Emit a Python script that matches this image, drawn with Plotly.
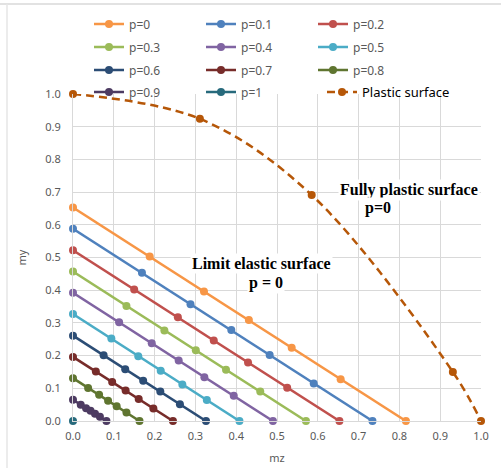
import plotly.graph_objects as go

# ---- data ----
p_labels = ["p=0", "p=0.1", "p=0.2", "p=0.3", "p=0.4", "p=0.5",
            "p=0.6", "p=0.7", "p=0.8", "p=0.9", "p=1"]

mz_p0 = [0, 0.188, 0.321, 0.431, 0.536, 0.656, 0.816]
my_p0 = [0.653, 0.503, 0.396, 0.309, 0.224, 0.128, 0]
mz_p01 = [0, 0.169, 0.288, 0.388, 0.482, 0.590, 0.734]
my_p01 = [0.588, 0.453, 0.357, 0.278, 0.202, 0.115, 0]
mz_p02 = [0, 0.150, 0.257, 0.345, 0.429, 0.525, 0.653]
my_p02 = [0.522, 0.402, 0.317, 0.246, 0.179, 0.102, 0]
mz_p03 = [0, 0.131, 0.224, 0.301, 0.375, 0.459, 0.571]
my_p03 = [0.457, 0.352, 0.277, 0.216, 0.157, 0.090, 0]
mz_p04 = [0, 0.113, 0.193, 0.259, 0.322, 0.394, 0.490]
my_p04 = [0.392, 0.302, 0.238, 0.185, 0.134, 0.077, 0]
mz_p05 = [0, 0.094, 0.160, 0.215, 0.268, 0.328, 0.408]
my_p05 = [0.327, 0.252, 0.198, 0.154, 0.112, 0.064, 0]
mz_p06 = [0, 0.075, 0.128, 0.172, 0.214, 0.262, 0.326]
my_p06 = [0.261, 0.201, 0.158, 0.123, 0.090, 0.051, 0]
mz_p07 = [0, 0.056, 0.096, 0.129, 0.161, 0.197, 0.245]
my_p07 = [0.196, 0.151, 0.119, 0.093, 0.067, 0.038, 0]
mz_p08 = [0, 0.037, 0.064, 0.086, 0.107, 0.131, 0.163]
my_p08 = [0.131, 0.101, 0.080, 0.062, 0.045, 0.026, 0]
mz_p09 = [0, 0.019, 0.032, 0.043, 0.054, 0.066, 0.082]
my_p09 = [0.065, 0.050, 0.039, 0.031, 0.022, 0.013, 0]
mz_p1 = [0]
my_p1 = [0]

mz_plastic = [0, 0.311, 0.585, 0.931, 1.0]
my_plastic = [1.0, 0.924, 0.691, 0.150, 0.0]

mz_series = [mz_p0, mz_p01, mz_p02, mz_p03, mz_p04, mz_p05,
             mz_p06, mz_p07, mz_p08, mz_p09, mz_p1]
my_series = [my_p0, my_p01, my_p02, my_p03, my_p04, my_p05,
             my_p06, my_p07, my_p08, my_p09, my_p1]

colors = ["#F79646", "#4F81BD", "#C0504D", "#9BBB59", "#8064A2", "#4BACC6",
          "#2C4D75", "#772C2A", "#5F7530", "#4D3B62", "#276A7C"]
plastic_color = "#B65708"

# layout geometry (pixels)
W, H = 501, 468
L, R, T, B = 73, 20, 94, 47
pw, ph = W - L - R, H - T - B

def py2paper(py):
    return (H - B - py) / ph

def px2paper(px):
    return (px - L) / pw

legend_names = ["legend", "legend2", "legend3", "legend4"]

fig = go.Figure()
for i, (name, xs, ys, c) in enumerate(zip(p_labels, mz_series, my_series, colors)):
    fig.add_trace(go.Scatter(
        x=xs, y=ys, name=name, mode="lines+markers",
        line=dict(color=c, width=2.5),
        marker=dict(color=c, size=8),
        legend=legend_names[i // 3],
        cliponaxis=False,
    ))

fig.add_trace(go.Scatter(
    x=mz_plastic, y=my_plastic,
    name='<span style="color:#000000;font-size:13px">Plastic surface</span>',
    mode="lines+markers",
    line=dict(color=plastic_color, width=2.5, dash="8px,5px", shape="spline"),
    marker=dict(color=plastic_color, size=8),
    legend="legend5",
    cliponaxis=False,
))

row_py = [24, 47, 70, 92]
leg_font = dict(family="Noto Sans, Open Sans, sans-serif", size=12, color="#595959")
leg_common = dict(orientation="h", entrywidth=67, entrywidthmode="pixels",
                  bgcolor="rgba(0,0,0,0)", borderwidth=0, font=leg_font,
                  xref="container", yref="container",
                  xanchor="left", yanchor="middle", itemwidth=30)
legends = {}
for name, py in zip(legend_names, row_py):
    d = dict(leg_common)
    d["x"] = 89 / W
    d["y"] = 1 - py / H
    legends[name] = d
d5 = dict(leg_common)
d5["entrywidth"] = 100
d5["x"] = 322 / W
d5["y"] = 1 - 92 / H
legends["legend5"] = d5

grid = "#D9D9D9"
tick_font = dict(family="Noto Sans, Open Sans, sans-serif", size=11, color="#595959")

fig.update_layout(
    width=W, height=H,
    margin=dict(l=L, r=R, t=T, b=B, autoexpand=False),
    paper_bgcolor="white", plot_bgcolor="white",
    showlegend=True,
    xaxis=dict(range=[0, 1.0], dtick=0.1, tickformat=".1f", showgrid=True,
               gridcolor=grid, gridwidth=1, zeroline=False, showline=True,
               linecolor=grid, linewidth=1, ticks="", tickfont=tick_font,
               ticklabelstandoff=5,
               title=dict(text="mz", font=tick_font, standoff=12),
               automargin=False, fixedrange=True),
    yaxis=dict(range=[0, 1.0], dtick=0.1, tickformat=".1f", showgrid=True,
               gridcolor=grid, gridwidth=1, zeroline=False, showline=True,
               linecolor=grid, linewidth=1, ticks="", tickfont=tick_font,
               ticklabelstandoff=9,
               title=dict(text="my", font=tick_font, standoff=16),
               automargin=False, fixedrange=True),
    **legends,
)

ann_font = dict(family="Liberation Serif, Times New Roman, serif", size=16, color="#000000")
fig.add_annotation(x=0.824, y=0.706, xref="x", yref="y", text="<b>Fully plastic surface</b>",
                   showarrow=False, font=ann_font, bgcolor="white", borderpad=1)
fig.add_annotation(x=0.748, y=0.652, xref="x", yref="y", text="<b>p=0</b>",
                   showarrow=False, font=ann_font, bgcolor="white", borderpad=1)
fig.add_annotation(x=0.461, y=0.483, xref="x", yref="y", text="<b>Limit elastic surface</b>",
                   showarrow=False, font=ann_font, bgcolor="white", borderpad=1)
fig.add_annotation(x=0.473, y=0.421, xref="x", yref="y", text="<b>p = 0</b>",
                   showarrow=False, font=ann_font, bgcolor="white", borderpad=1)

# outer chart frame (partially visible in the crop)
fig.add_shape(type="line", xref="paper", yref="paper",
              x0=px2paper(0), x1=px2paper(W), y0=py2paper(4), y1=py2paper(4),
              line=dict(color="#D9D9D9", width=1.5))
fig.add_shape(type="line", xref="paper", yref="paper",
              x0=px2paper(7), x1=px2paper(7), y0=py2paper(4), y1=py2paper(H),
              line=dict(color="#E6E6E6", width=1.5))

fig.write_html("out.html", config={"displayModeBar": False},
               post_script="document.body.style.margin='0';")
